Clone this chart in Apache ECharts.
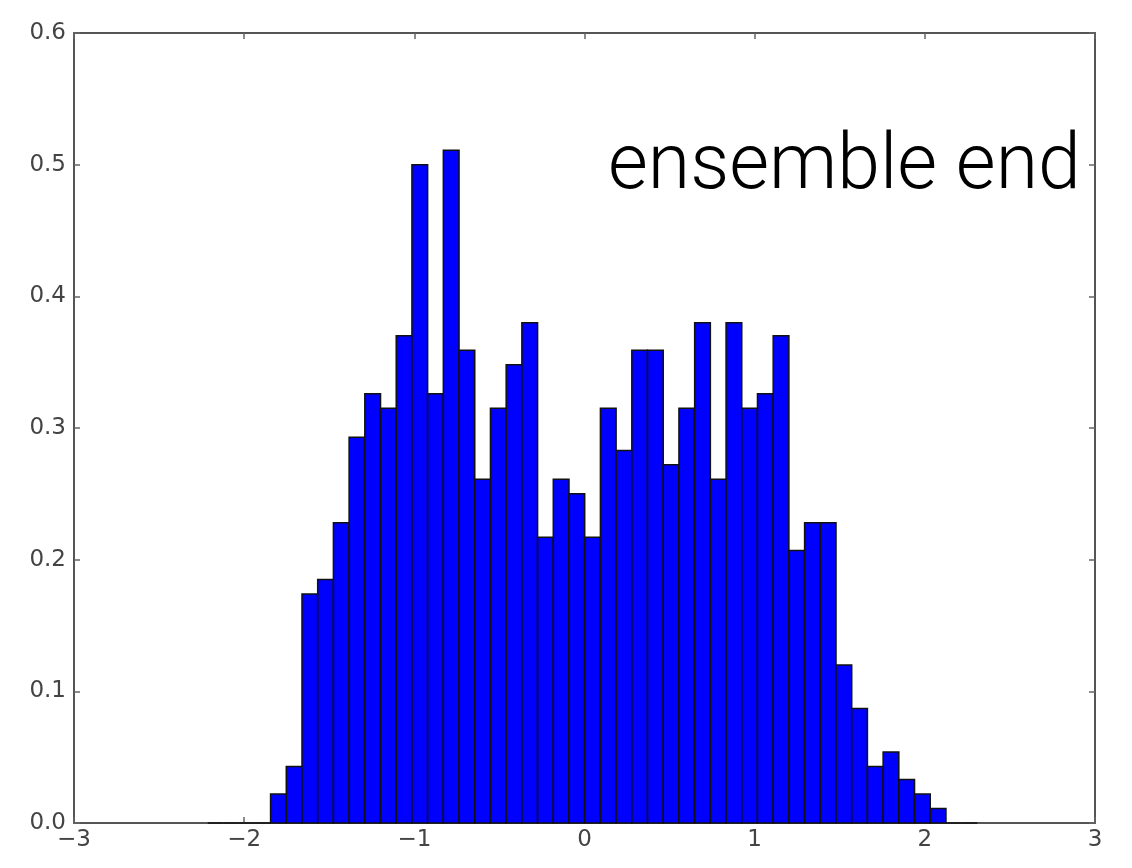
<!DOCTYPE html>
<html>
<head>
<meta charset="utf-8">
<script src="https://cdn.jsdelivr.net/npm/echarts@6/dist/echarts.min.js"></script>
<style>
  html, body { margin: 0; padding: 0; background: #fff; }
  #chart { width: 1132px; height: 868px; }
</style>
</head>
<body>
<div id="chart"></div>
<script>
// histogram bins (uniform width), heights are normalized density
const binStart = -2.214;
const binWidth = 0.0923;
const density = [
  0, 0, 0, 0,
  0.022, 0.043, 0.174, 0.185, 0.228, 0.293, 0.326, 0.315, 0.370, 0.500,
  0.326, 0.511, 0.359, 0.261, 0.315, 0.348, 0.380, 0.217, 0.261, 0.250,
  0.217, 0.315, 0.283, 0.359, 0.359, 0.272, 0.315, 0.380, 0.261, 0.380,
  0.315, 0.326, 0.370, 0.207, 0.228, 0.228, 0.120, 0.087, 0.043, 0.054,
  0.033, 0.022, 0.011,
  0, 0
];
const xTicks = [-3, -2, -1, 0, 1, 2, 3];
const yTicks = [0.0, 0.1, 0.2, 0.3, 0.4, 0.5, 0.6];
const annotation = "ensemble end";

const bins = density.map((h, i) => [binStart + i * binWidth, binStart + (i + 1) * binWidth, h]);

const chart = echarts.init(document.getElementById("chart"));

const frame = { show: true, onZero: false, lineStyle: { color: "#555", width: 2 } };
const ticks = { show: true, inside: true, length: 6, lineStyle: { color: "#666", width: 1.5 } };
const labelFont = { fontFamily: "DejaVu Sans", fontSize: 23, color: "#444" };

const xBase = {
  type: "value",
  min: xTicks[0],
  max: xTicks[xTicks.length - 1],
  interval: 1,
  axisLine: frame,
  axisTick: ticks,
  splitLine: { show: false },
};
const yBase = {
  type: "value",
  min: yTicks[0],
  max: yTicks[yTicks.length - 1],
  interval: 0.1,
  axisLine: frame,
  axisTick: ticks,
  splitLine: { show: false },
};

const option = {
  backgroundColor: "#fff",
  animation: false,
  grid: { left: 74, right: 37, top: 33, bottom: 45 },
  xAxis: [
    Object.assign({}, xBase, {
      position: "bottom",
      axisLabel: Object.assign({}, labelFont, {
        margin: 6,
        formatter: (v) => String(v).replace("-", "\u2212"),
      }),
    }),
    Object.assign({}, xBase, { position: "top", axisLabel: { show: false } }),
  ],
  yAxis: [
    Object.assign({}, yBase, {
      position: "left",
      axisLabel: Object.assign({}, labelFont, {
        margin: 8,
        formatter: (v) => v.toFixed(1),
      }),
    }),
    Object.assign({}, yBase, { position: "right", axisLabel: { show: false } }),
  ],
  graphic: [
    {
      type: "text",
      left: 608,
      top: 130,
      z: 10,
      style: {
        text: annotation,
        fontFamily: "Roboto",
        fontWeight: 300,
        fontSize: 77,
        fill: "#000",
      },
    },
  ],
  series: [
    {
      type: "custom",
      xAxisIndex: 0,
      yAxisIndex: 0,
      data: bins,
      renderItem: (params, api) => {
        const topLeft = api.coord([api.value(0), api.value(2)]);
        const bottomRight = api.coord([api.value(1), 0]);
        return {
          type: "rect",
          shape: {
            x: topLeft[0],
            y: topLeft[1],
            width: bottomRight[0] - topLeft[0],
            height: bottomRight[1] - topLeft[1],
          },
          style: { fill: "#0000ff", stroke: "#111", lineWidth: 1.5 },
        };
      },
    },
  ],
};

chart.setOption(option);
</script>
</body>
</html>
